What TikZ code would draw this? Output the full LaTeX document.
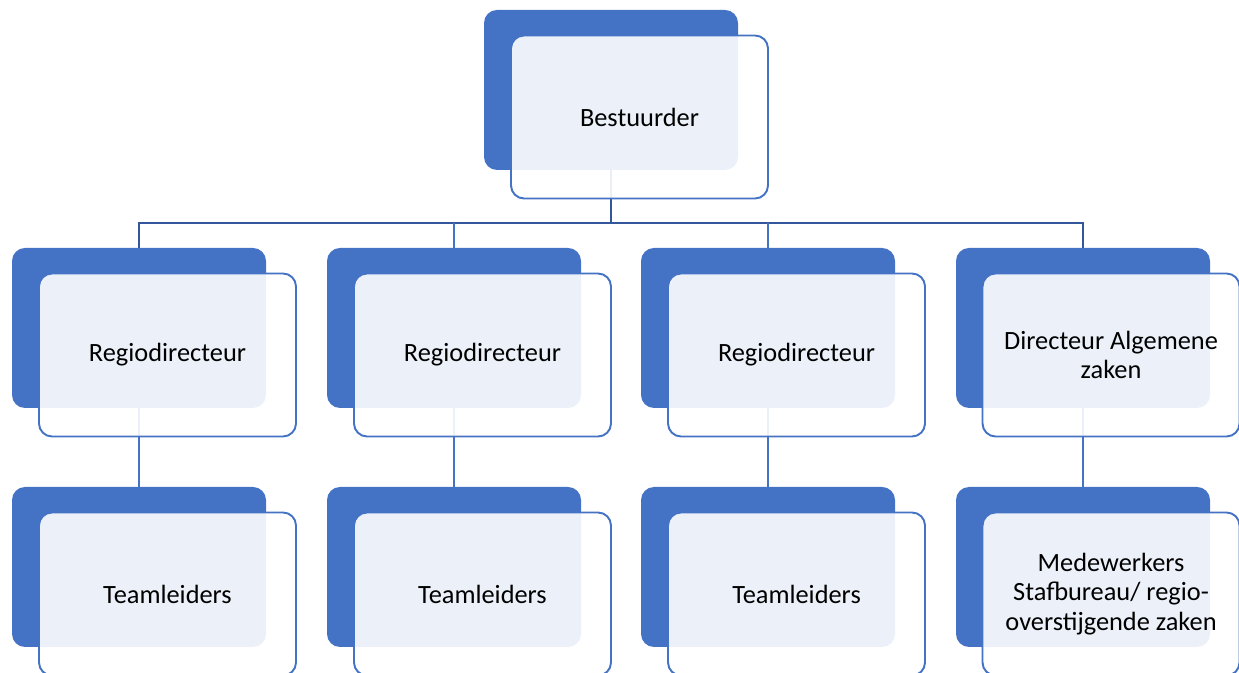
\documentclass[tikz,border=0pt]{standalone}
\usepackage{xcolor}
\usepackage{fontspec}
\setmainfont{Carlito}
\usepackage{tikz}
\definecolor{orgblue}{HTML}{4472C4}
\definecolor{orgdark}{HTML}{34569A}
\pgfdeclarelayer{background}
\pgfsetlayers{background,main}
\tikzset{
  backbox/.style={fill=orgblue,rounded corners=0.26cm,minimum width=5.08cm,minimum height=3.2cm,inner sep=0pt},
  frontbox/.style={draw=orgblue,line width=1.1pt,fill=white,fill opacity=0.9,text opacity=1,
    rounded corners=0.26cm,minimum width=5.14cm,minimum height=3.26cm,inner sep=0pt,
    align=center,font=\fontsize{15}{16.6}\selectfont},
  trunk/.style={orgdark,line width=1.6pt},
  branch/.style={orgblue,line width=1.1pt}
}

\begin{document}
\begin{tikzpicture}[x=1cm,y=1cm]
  \useasboundingbox (0,0) rectangle (24.78,13.46);
  % top
  \node[backbox] (bestuurder-bg) at (12.22,11.66) {};
  \node[frontbox] (bestuurder) at (12.79,11.12) {Bestuurder};
  % second row
  \node[backbox] (rd1-bg) at (2.78,6.90) {};
  \node[frontbox] (rd1) at (3.35,6.36) {Regiodirecteur};
  \node[backbox] (rd2-bg) at (9.08,6.90) {};
  \node[frontbox] (rd2) at (9.65,6.36) {Regiodirecteur};
  \node[backbox] (rd3-bg) at (15.36,6.90) {};
  \node[frontbox] (rd3) at (15.93,6.36) {Regiodirecteur};
  \node[backbox] (daz-bg) at (21.66,6.90) {};
  \node[frontbox] (daz) at (22.22,6.36) {Directeur Algemene\\zaken};
  % third row
  \node[backbox] (tl1-bg) at (2.78,2.12) {};
  \node[frontbox] (tl1) at (3.35,1.58) {Teamleiders};
  \node[backbox] (tl2-bg) at (9.08,2.12) {};
  \node[frontbox] (tl2) at (9.65,1.58) {Teamleiders};
  \node[backbox] (tl3-bg) at (15.36,2.12) {};
  \node[frontbox] (tl3) at (15.93,1.58) {Teamleiders};
  \node[backbox] (mw-bg) at (21.66,2.12) {};
  \node[frontbox] (mw) at (22.22,1.58) {Medewerkers\\Stafbureau/ regio-\\overstijgende zaken};
  % connectors
  \begin{pgfonlayer}{background}
    \coordinate (split) at (12.22,9.0);
    \draw[trunk] (bestuurder-bg.south) -- (split);
    \draw[trunk] (rd1-bg.north) |- (split) -| (daz-bg.north);
    \draw[branch] (rd2-bg.north) -- (rd2-bg.north |- split);
    \draw[branch] (rd3-bg.north) -- (rd3-bg.north |- split);
    \draw[branch] (rd1-bg.south) -- (tl1-bg.north);
    \draw[branch] (rd2-bg.south) -- (tl2-bg.north);
    \draw[branch] (rd3-bg.south) -- (tl3-bg.north);
    \draw[branch] (daz-bg.south) -- (mw-bg.north);
  \end{pgfonlayer}
\end{tikzpicture}
\end{document}
